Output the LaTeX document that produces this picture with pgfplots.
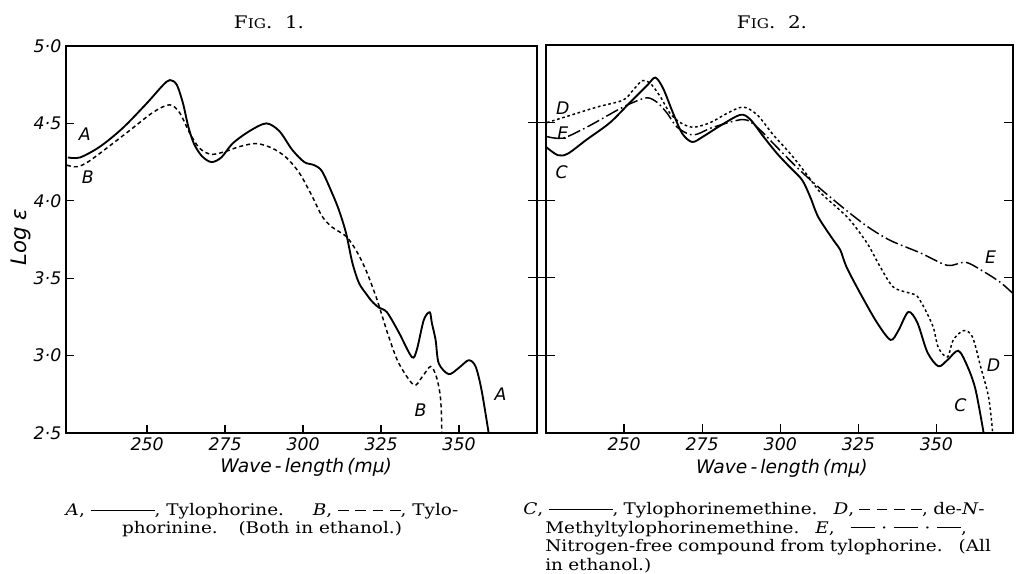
\documentclass[border=0pt]{standalone}
\usepackage{pgfplots}
\pgfplotsset{compat=1.18}
\usepackage{fontspec}
\setmainfont{DejaVu Serif}[FakeStretch=1.15]
\newfontfamily\labf{DejaVu Sans}
\newcommand{\tk}{\labf\itshape\fontsize{13}{13}\selectfont}
\newcommand{\solid}{\rule[0.6ex]{48pt}{0.6pt}}
\newcommand{\dsh}{\rule[0.6ex]{8pt}{0.6pt}}
\newcommand{\dashes}{\dsh\hspace{5pt}\dsh\hspace{5pt}\dsh\hspace{5pt}\dsh}
\newcommand{\dashdot}{\rule[0.6ex]{18pt}{0.6pt}\hspace{5pt}\textperiodcentered\hspace{5pt}\rule[0.6ex]{18pt}{0.6pt}\hspace{5pt}\textperiodcentered\hspace{5pt}\rule[0.6ex]{18pt}{0.6pt}}
\tikzset{lbl/.style={font=\labf\itshape\fontsize{13}{13}\selectfont}}
\begin{document}
\begin{tikzpicture}[x=0.75pt,y=0.75pt]
\path[use as bounding box] (0,0) rectangle (1022,574);
\pgfplotsset{
  spec/.style={
    scale only axis,
    ymin=2.5, ymax=5,
    axis line style={line width=1.3pt},
    tick style={line width=1pt, black},
    tick align=inside,
    major tick length=7pt,
    xtick={250,275,300,325,350},
    xticklabels={250,275,300,325,350},
    xtick pos=bottom,
    ticklabel style={font=\tk},
    xlabel={\labf\itshape\fontsize{14}{14}\selectfont Wave\,-\,length\,(mμ)},
    xlabel style={at={(axis description cs:0.51,-0.09)}, anchor=center},
  },
}
% Fig. 1
\begin{axis}[spec,
  at={(49.5pt,105.75pt)}, anchor=south west,
  width=353.25pt, height=290.25pt,
  xmin=224, xmax=375,
  ytick={2.5,3,3.5,4,4.5,5},
  yticklabels={2·5,3·0,3·5,4·0,4·5,5·0},
  ytick pos=left,
  major tick length=6pt,
  ylabel={\labf\itshape\fontsize{16}{16}\selectfont Log ε},
  ylabel style={at={(axis description cs:-0.095,0.506)}, anchor=center},
]
\addplot[black, line width=1.4pt, smooth] coordinates {
(224.6,4.28)(228.5,4.28)(234.9,4.35)(242.2,4.47)(249.9,4.63)(255,4.745)(257.3,4.78)(259.5,4.75)(261.5,4.63)(263.2,4.48)(265,4.37)(267.5,4.29)(270.6,4.25)(273.8,4.28)(277.4,4.37)(282.8,4.45)(288.2,4.50)(292.4,4.45)(296.5,4.33)(300.4,4.25)(303.6,4.23)(306.1,4.19)(309.3,4.05)(311.5,3.94)(313.8,3.79)(315.8,3.60)(317.9,3.47)(320.2,3.40)(322.1,3.35)(324.3,3.31)(326.9,3.28)(330.7,3.15)(334.9,2.99)(336.5,3.04)(338.7,3.23)(340.6,3.28)(341.3,3.21)(342.5,3.1)(343.5,2.95)(346.7,2.88)(349.9,2.92)(353.1,2.97)(355.3,2.93)(357.2,2.78)(359.5,2.5)
};
\addplot[black, line width=1.1pt, dash pattern=on 3pt off 2.3pt, smooth] coordinates {
(224.3,4.23)(227.5,4.22)(231.7,4.26)(243.5,4.44)(251.8,4.57)(257.2,4.62)(260.4,4.57)(263.6,4.44)(266.8,4.34)(270.6,4.30)(275.4,4.32)(279.6,4.35)(285,4.37)(290.1,4.34)(294.6,4.28)(298.8,4.18)(302.9,4.03)(306.1,3.90)(309.3,3.83)(313.8,3.77)(317,3.68)(320.2,3.55)(323.4,3.38)(325,3.28)(327.5,3.12)(330.7,2.95)(335.5,2.81)(338.1,2.86)(340.9,2.93)(342.8,2.86)(344.1,2.72)(344.5,2.5)
};
\node[lbl] at (axis cs:230,4.43) {A};
\node[lbl] at (axis cs:231,4.15) {B};
\node[lbl] at (axis cs:337.7,2.65) {B};
\node[lbl] at (axis cs:363.3,2.75) {A};
\end{axis}
% Fig. 2
\begin{axis}[spec,
  at={(409.5pt,105.75pt)}, anchor=south west,
  width=350.25pt, height=291pt,
  xmin=225, xmax=374.5,
  ytick={3,3.5,4,4.5},
  yticklabels={},
  ytick pos=both,
  xlabel style={at={(axis description cs:0.505,-0.09)}, anchor=center},
]
\addplot[black, line width=1.4pt, smooth] coordinates {
(225.2,4.34)(228.8,4.29)(232,4.30)(238,4.39)(245.5,4.50)(251.9,4.63)(257.4,4.74)(260,4.79)(262.5,4.72)(265.7,4.56)(268.6,4.43)(271.8,4.375)(275.3,4.41)(280.8,4.48)(287.2,4.55)(290.4,4.52)(294.6,4.41)(299,4.30)(303.2,4.21)(307,4.13)(309.6,4.02)(312.2,3.89)(317.1,3.74)(319.2,3.68)(321.2,3.57)(325.6,3.40)(331,3.21)(335.3,3.10)(337.8,3.16)(341,3.28)(343.9,3.21)(347.1,3.02)(350.6,2.93)(353.5,2.97)(357,3.03)(359.9,2.93)(362.5,2.78)(365.1,2.5)
};
\addplot[black, line width=1.1pt, dash pattern=on 2pt off 2pt, smooth] coordinates {
(225.3,4.50)(231.7,4.54)(241.3,4.60)(249.7,4.645)(252.9,4.71)(255.8,4.77)(258.3,4.755)(261.5,4.67)(264.7,4.56)(268,4.50)(272.1,4.47)(277.6,4.50)(283,4.56)(288.1,4.60)(292.6,4.55)(297.8,4.42)(303.2,4.30)(308.7,4.16)(312.8,4.05)(318.3,3.95)(322.4,3.87)(327.9,3.72)(332,3.57)(336.2,3.44)(341.7,3.40)(343.9,3.38)(346.5,3.29)(349,3.18)(350.6,3.05)(353.5,2.99)(355.4,3.10)(358.7,3.16)(361.5,3.12)(364.1,2.93)(366.7,2.73)(368,2.5)
};
\addplot[black, line width=1.1pt, dash pattern=on 10pt off 2.5pt on 1.2pt off 2.5pt, smooth] coordinates {
(225.3,4.41)(230.4,4.40)(238,4.47)(247.8,4.58)(252.9,4.63)(257.4,4.66)(260.6,4.63)(263.8,4.56)(267,4.47)(272.1,4.42)(278.5,4.47)(288.1,4.52)(292.6,4.47)(299,4.34)(305.4,4.21)(311.9,4.09)(320.2,3.95)(327.9,3.83)(335.3,3.74)(344.9,3.66)(353.5,3.58)(359.3,3.60)(365.1,3.54)(370.5,3.47)(374.4,3.40)
};
\node[lbl] at (axis cs:230.4,4.59) {D};
\node[lbl] at (axis cs:230.4,4.43) {E};
\node[lbl] at (axis cs:230,4.18) {C};
\node[lbl] at (axis cs:367.3,3.63) {E};
\node[lbl] at (axis cs:368.3,2.94) {D};
\node[lbl] at (axis cs:357.7,2.68) {C};
\end{axis}
% outer left ticks of Fig. 2, crossing the gap
\begin{axis}[
  at={(409.5pt,105.75pt)}, anchor=south west,
  scale only axis, width=350.25pt, height=291pt,
  xmin=225, xmax=374.5, ymin=2.5, ymax=5,
  hide x axis, axis y line*=left,
  y axis line style={draw=none},
  ytick={3,3.5,4,4.5}, yticklabels={},
  tick align=outside, major tick length=13.5pt,
  tick style={line width=1pt, black},
]
\end{axis}
% titles
\node[font=\fontsize{13}{13}\selectfont] at (269,552) {F{\fontsize{10}{10}\selectfont IG}.\ \ 1.};
\node[font=\fontsize{13}{13}\selectfont] at (772,552) {F{\fontsize{10}{10}\selectfont IG}.\ \ 2.};
% captions
\node[anchor=base, align=center, font=\fontsize{12}{14}\selectfont, inner sep=0pt] at (262,40)
  {{\itshape A}, \solid, Tylophorine.\hspace{1.8em}{\itshape B}, \dashes, Tylo-\\
   phorinine.\hspace{1.3em}(Both in ethanol.)};
\node[anchor=north west, text width=373pt, font=\fontsize{12}{14}\selectfont, inner sep=0pt] at (523,72)
  {\hangindent=16.5pt\hangafter=1
   {\itshape C}, \solid, Tylophorinemethine.\quad {\itshape D}, \dashes, de-{\itshape N}-\linebreak
   Methyltylophorinemethine.\quad {\itshape E},\quad \dashdot,\linebreak
   Nitrogen-free compound from tylophorine.\quad (All\linebreak
   in ethanol.)\par};
\end{tikzpicture}
\end{document}
